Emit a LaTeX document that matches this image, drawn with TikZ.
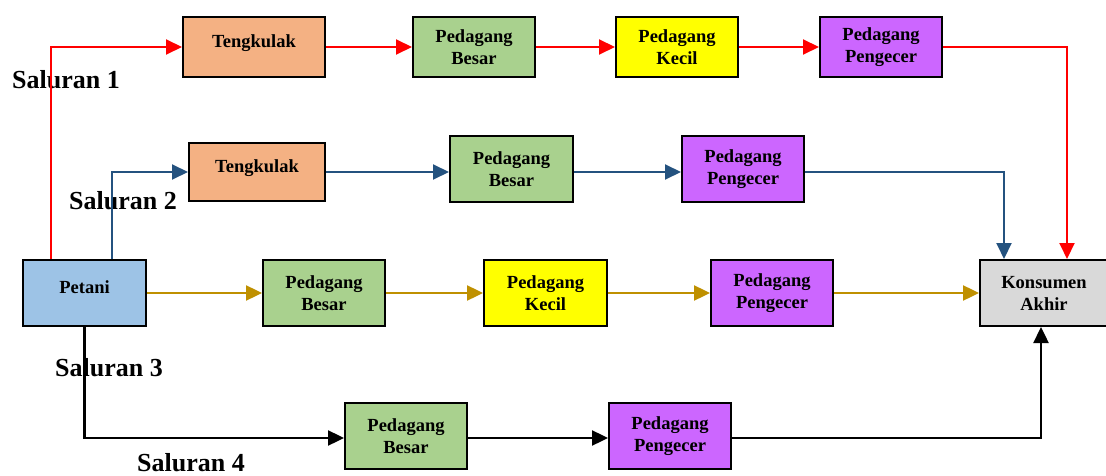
\documentclass[tikz,border=0pt]{standalone}
\usepackage{fontspec}
\setmainfont{Liberation Serif}
\usetikzlibrary{arrows.meta, positioning}
\definecolor{tkorange}{HTML}{F4B183}
\definecolor{pbgreen}{HTML}{A9D18E}
\definecolor{pkyellow}{HTML}{FFFF00}
\definecolor{pppurple}{HTML}{CC66FF}
\definecolor{ptblue}{HTML}{9DC3E6}
\definecolor{kagray}{HTML}{D9D9D9}
\definecolor{lineblue}{HTML}{24527F}
\definecolor{linegold}{HTML}{BF9000}

\begin{document}
\begin{tikzpicture}[
  x=1pt, y=1pt,
  box/.style={rectangle, draw=black, line width=2pt, minimum width=122pt, minimum height=66pt,
    inner sep=0pt, align=center, font=\fontsize{18.5}{22}\selectfont\bfseries},
  topbox/.style={box, text depth=12pt},
  saluran/.style={font=\fontsize{26}{28}\selectfont\bfseries, inner sep=0pt},
  tip/.style={-{Triangle[length=16pt, width=15pt]}},
  redarr/.style={tip, line width=2pt, red},
  bluarr/.style={tip, line width=2pt, lineblue},
  goldarr/.style={tip, line width=2.4pt, linegold},
  blkarr/.style={tip, line width=2.4pt, black}
]
\useasboundingbox (0,0) rectangle (1106,-476);

% saluran 1
\node[topbox, fill=tkorange, minimum width=142pt, minimum height=60pt] (tkA) at (254,-47) {Tengkulak};
\node[box, fill=pbgreen, minimum height=60pt] (pbA) at (474,-47) {Pedagang\\Besar};
\node[box, fill=pkyellow, minimum height=60pt] (pkA) at (677,-47) {Pedagang\\Kecil};
\node[box, fill=pppurple, minimum height=60pt] (ppA) at (881,-47) {Pedagang\\Pengecer};

% saluran 2
\node[topbox, fill=tkorange, minimum width=136pt, minimum height=58pt] (tkB) at (257,-172) {Tengkulak};
\node[box, fill=pbgreen, minimum width=123pt] (pbB) at (511.5,-169) {Pedagang\\Besar};
\node[box, fill=pppurple] (ppB) at (743,-169) {Pedagang\\Pengecer};

% saluran 3
\node[topbox, fill=ptblue, minimum width=123pt] (petani) at (84.5,-293) {Petani};
\node[box, fill=pbgreen] (pbC) at (324,-293) {Pedagang\\Besar};
\node[box, fill=pkyellow, minimum width=123pt] (pkC) at (545.5,-293) {Pedagang\\Kecil};
\node[box, fill=pppurple] (ppC) at (772,-293) {Pedagang\\Pengecer};
\node[box, fill=kagray, minimum width=128pt] (konsumen) at (1044,-293) {Konsumen\\Akhir};

% saluran 4
\node[box, fill=pbgreen] (pbD) at (406,-436) {Pedagang\\Besar};
\node[box, fill=pppurple] (ppD) at (670,-436) {Pedagang\\Pengecer};

\node[saluran] (lblA) at (66,-80) {Saluran 1};
\node[saluran] (lblB) at (123,-201) {Saluran 2};
\node[saluran] (lblC) at (109,-368) {Saluran 3};
\node[saluran] (lblD) at (191,-463) {Saluran 4};

\draw[redarr] ([xshift=29pt]petani.north west) |- (tkA);
\draw[redarr] (tkA) -- (pbA);
\draw[redarr] (pbA) -- (pkA);
\draw[redarr] (pkA) -- (ppA);
\draw[redarr] (ppA) -| ([xshift=23pt]konsumen.north);

\draw[bluarr] ([xshift=90pt]petani.north west) |- (tkB);
\draw[bluarr] (tkB) -- (tkB -| pbB.west);
\draw[bluarr] (tkB -| pbB.east) -- (tkB -| ppB.west);
\draw[bluarr] (tkB -| ppB.east) -| ([xshift=-40pt]konsumen.north);

\draw[goldarr] (petani) -- (pbC);
\draw[goldarr] (pbC) -- (pkC);
\draw[goldarr] (pkC) -- (ppC);
\draw[goldarr] (ppC) -- (konsumen);

\draw[blkarr] (petani.south) |- ([yshift=-2pt]pbD.west);
\draw[blkarr] ([yshift=-2pt]pbD.east) -- ([yshift=-2pt]ppD.west);
\draw[blkarr] ([yshift=-2pt]ppD.east) -| ([xshift=-3pt]konsumen.south);
\end{tikzpicture}
\end{document}
